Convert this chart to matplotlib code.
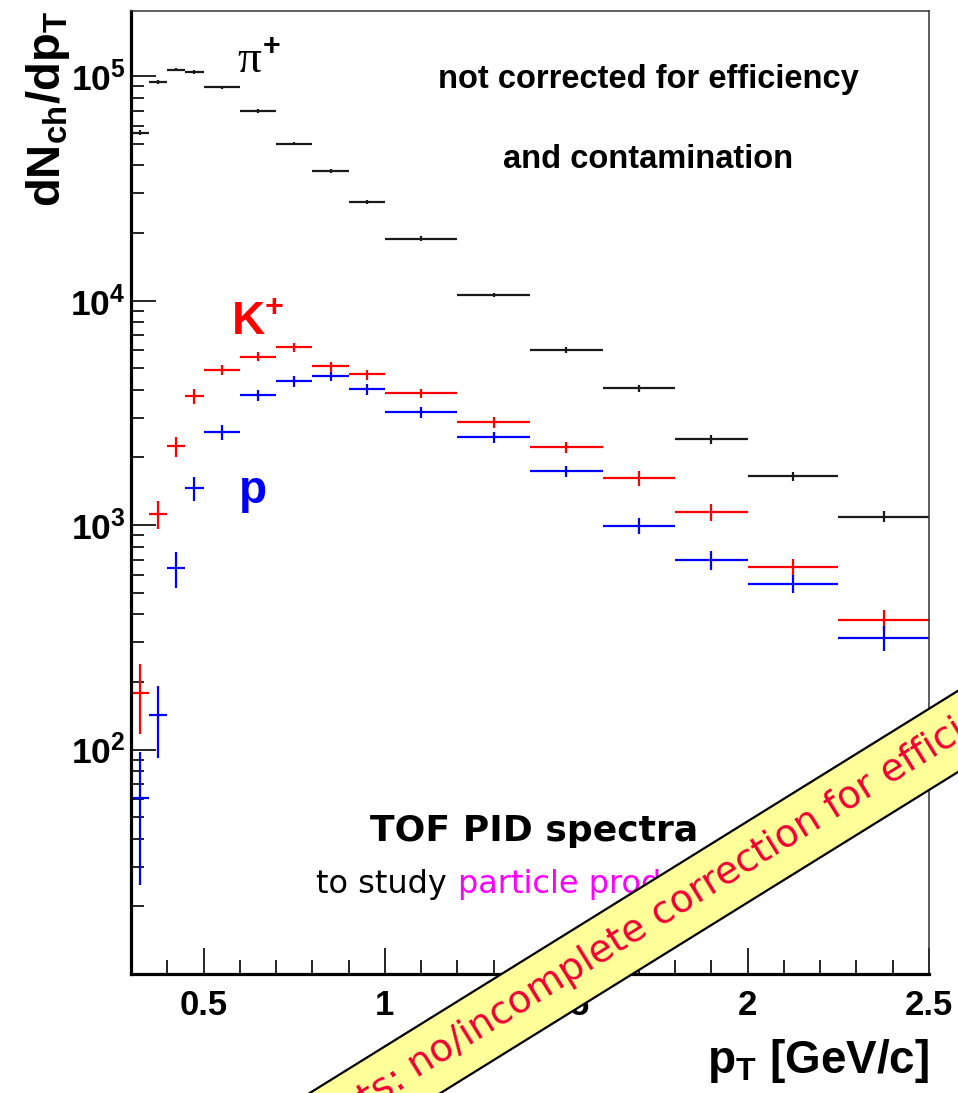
import numpy as np
import matplotlib
matplotlib.use("Agg")
import matplotlib.pyplot as plt
from matplotlib.patches import Rectangle
from matplotlib.ticker import LogLocator, NullFormatter, MultipleLocator

plt.rcParams['font.family'] = ['Liberation Sans', 'DejaVu Sans']
plt.rcParams['mathtext.fontset'] = 'custom'
plt.rcParams['mathtext.rm'] = 'Liberation Sans'
plt.rcParams['mathtext.bf'] = 'Liberation Sans:bold'
plt.rcParams['mathtext.it'] = 'Liberation Sans:italic'

# pT bins (GeV/c)
bin_edges = [0.30, 0.35, 0.40, 0.45, 0.50, 0.60, 0.70, 0.80, 0.90, 1.00,
             1.20, 1.40, 1.60, 1.80, 2.00, 2.25, 2.50]

# raw yields dN/dpT
pion = [5.6e4, 9.4e4, 1.07e5, 1.04e5, 8.9e4, 7.0e4, 5.0e4, 3.78e4, 2.75e4,
        1.89e4, 1.06e4, 6.05e3, 4.06e3, 2.41e3, 1.65e3, 1.09e3]
pion_err = [1500, 2000, 2000, 2000, 1500, 1200, 900, 800, 600,
            450, 250, 180, 130, 110, 80, 60]

kaon = [179, 1120, 2244, 3740, 4930, 5630, 6180, 5090, 4690,
        3860, 2870, 2220, 1620, 1143, 650, 378]
kaon_err = [62, 155, 230, 280, 250, 260, 300, 260, 240,
            180, 150, 120, 120, 100, 55, 40]

proton = [61, 142, 644, 1460, 2590, 3780, 4370, 4600, 4020,
          3180, 2460, 1740, 990, 698, 547, 315]
proton_err = [36, 50, 118, 180, 200, 220, 230, 230, 220,
              170, 130, 100, 80, 70, 50, 40]

edges = np.array(bin_edges)
centers = 0.5 * (edges[1:] + edges[:-1])
halfw = 0.5 * (edges[1:] - edges[:-1])

W, H = 958, 1093
fig = plt.figure(figsize=(W / 100, H / 100), dpi=100)


def px(x, y):
    return x / W, 1 - y / H


ax = fig.add_axes([131 / W, (H - 974) / H, (929 - 131) / W, (974 - 11) / H])
ax.set_yscale('log')

series = [(pion, pion_err, '#1a1a1a'),
          (kaon, kaon_err, '#ff0000'),
          (proton, proton_err, '#0000ff')]
for vals, errs, col in series:
    ax.errorbar(centers, vals, xerr=halfw, yerr=errs, fmt='none',
                ecolor=col, elinewidth=1.6, capsize=0)

ax.set_xlim(0.3, 2.5)
ax.set_yticks([1e2, 1e3, 1e4, 1e5])
ax.set_yticklabels([r'$\mathbf{10^{%d}}$' % k for k in (2, 3, 4, 5)], fontsize=25.5)
ax.yaxis.set_minor_locator(LogLocator(base=10, subs=np.arange(2, 10), numticks=20))
ax.yaxis.set_minor_formatter(NullFormatter())
ax.set_ylim(10, 1.95e5)

ax.set_xticks([0.5, 1.0, 1.5, 2.0, 2.5])
ax.set_xticklabels(['0.5', '1', '1.5', '2', '2.5'], fontsize=25, fontweight='bold')
ax.xaxis.set_minor_locator(MultipleLocator(0.1))

ax.tick_params(which='both', direction='in', top=False, right=False, width=1.2)
ax.tick_params(axis='y', which='major', length=18, pad=4)
ax.tick_params(axis='y', which='minor', length=9)
ax.tick_params(axis='x', which='major', length=19, pad=11)
ax.tick_params(axis='x', which='minor', length=10)

for s in ('left', 'bottom'):
    ax.spines[s].set_linewidth(2.3)
for s in ('top', 'right'):
    ax.spines[s].set_linewidth(1.1)
    ax.spines[s].set_color('#333333')

ax.set_ylabel(r'$\mathbf{dN_{ch}/dp_{T}}$', fontsize=34, loc='top')
ax.yaxis.set_label_coords(-0.074, 1.0)
ax.set_xlabel(r'$\mathbf{p_{T}\ [GeV/c]}$', fontsize=33, loc='right')
ax.xaxis.set_label_coords(1.0, -0.065)

# particle labels
fig.text(*px(237, 72), '\u03c0', fontsize=34, family='Liberation Serif', va='baseline')
fig.text(*px(263, 55), '+', fontsize=22, family='Liberation Sans', fontweight='bold', va='baseline')
fig.text(*px(231, 335), r'$\mathbf{K^{+}}$', fontsize=33, color='#ff0000', va='baseline')
fig.text(*px(239, 503), 'p', fontsize=33, color='#0000ff', fontweight='bold', va='baseline')

# notes
fig.text(*px(648, 88), 'not corrected for efficiency', fontsize=23.5,
         fontweight='bold', ha='center', va='baseline')
fig.text(*px(648, 168), 'and contamination', fontsize=23.5,
         fontweight='bold', ha='center', va='baseline')
fig.text(*px(534, 841), 'TOF PID spectra', fontsize=26, family='DejaVu Sans',
         fontweight='bold', ha='center', va='baseline')
fig.text(*px(447, 893), 'to study', fontsize=23, family='DejaVu Sans',
         ha='right', va='baseline')
fig.text(*px(458, 893), 'particle production', fontsize=23, family='DejaVu Sans',
         color='#ff00ff', ha='left', va='baseline')

# diagonal banner (inch coordinates)
theta = np.degrees(np.arctan(0.6205))
t = np.radians(theta)
d = np.array([np.cos(t), np.sin(t)])
nrm = np.array([-np.sin(t), np.cos(t)])
c0 = np.array([9.57, (H - 732) / 100])
band_w = 0.69
L = 20.0
corner = c0 - 0.5 * L * d - 0.5 * band_w * nrm
band = Rectangle(corner, L, band_w, angle=theta, rotation_point='xy',
                 facecolor='#ffff99', edgecolor='black', linewidth=1.6,
                 transform=fig.dpi_scale_trans, zorder=10)
fig.add_artist(band)

s0 = (4.12 - c0[0]) / d[0]
anchor = c0 + s0 * d - 0.10 * nrm
gap = anchor - 0.10 * d
fig.text(anchor[0], anchor[1], 'no/incomplete correction for efficiency and contamination',
         transform=fig.dpi_scale_trans, rotation=theta, rotation_mode='anchor',
         ha='left', va='baseline', fontsize=27.5, family='DejaVu Sans',
         color='#ee0033', zorder=11)
fig.text(gap[0], gap[1], 'Caveats:',
         transform=fig.dpi_scale_trans, rotation=theta, rotation_mode='anchor',
         ha='right', va='baseline', fontsize=27.5, family='DejaVu Sans',
         color='#ee0033', zorder=11)

fig.savefig('out.png', dpi=100)
